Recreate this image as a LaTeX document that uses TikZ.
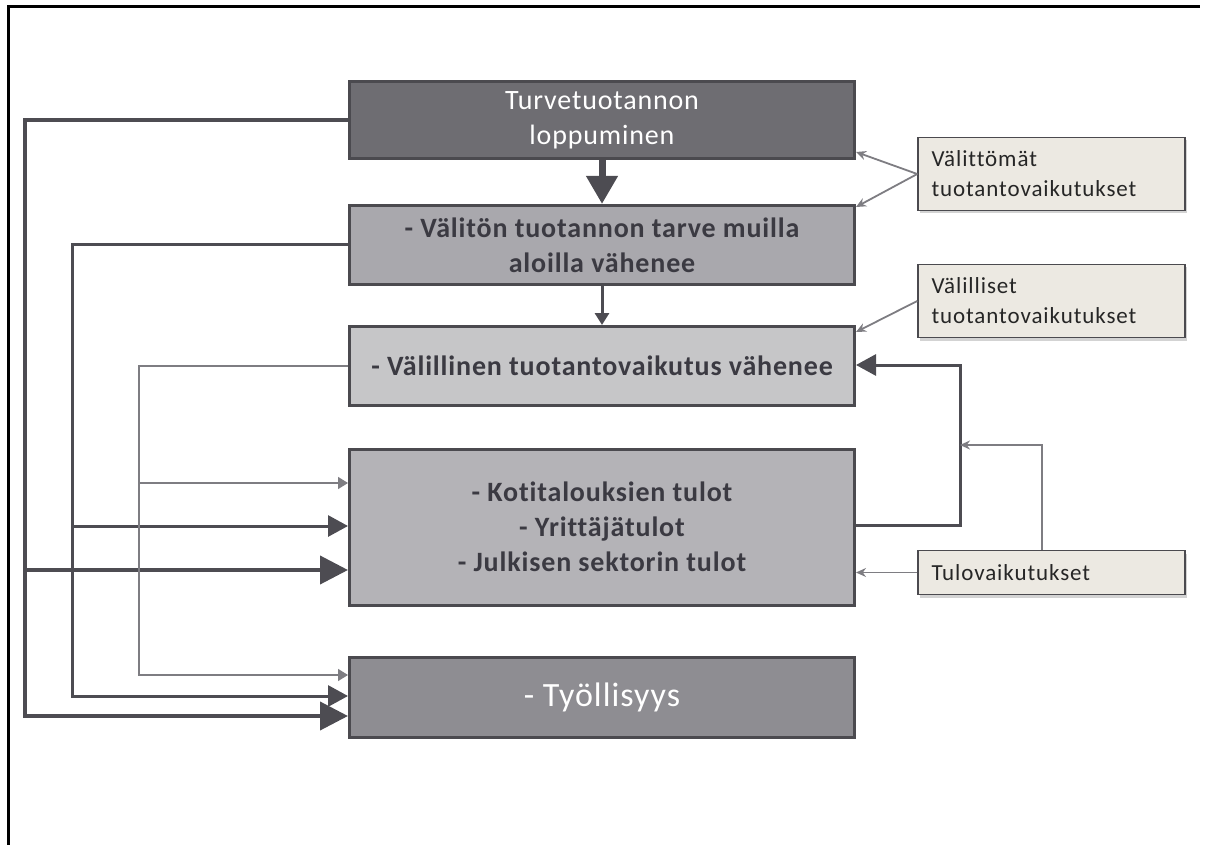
\documentclass[tikz,border=0pt]{standalone}
\usepackage{fontspec}
\setmainfont{Carlito}[RawFeature={-liga;-calt}]
\newfontfamily\spaced[LetterSpace=3,RawFeature={-liga;-calt}]{Carlito}
\newfontfamily\labfont[LetterSpace=4,RawFeature={-liga;-calt}]{Carlito}
\usetikzlibrary{arrows.meta,shadows}
\definecolor{bdr}{HTML}{4B4A4F}
\definecolor{fillA}{HTML}{6E6D72}
\definecolor{fillB}{HTML}{A9A8AD}
\definecolor{fillC}{HTML}{C6C6C8}
\definecolor{fillD}{HTML}{B4B3B7}
\definecolor{fillE}{HTML}{8E8D92}
\definecolor{labfill}{HTML}{ECE9E2}
\definecolor{darktxt}{HTML}{3B3A42}
\definecolor{linedark}{HTML}{4D4C52}
\definecolor{linelight}{HTML}{7E7D82}
\begin{document}
\begin{tikzpicture}[x=1pt,y=-1pt,
  box/.style={draw=bdr, line width=3pt, minimum width=505pt, inner sep=0pt, align=center},
  boxbold/.style={box, text=darktxt, font=\spaced\fontsize{28}{35}\selectfont\bfseries},
  labbox/.style={draw=bdr, line width=1.5pt, fill=labfill, minimum width=267pt, inner sep=0pt,
     text width=240pt, align=left, font=\labfont\fontsize{23}{30}\selectfont, text=black!85,
     drop shadow={opacity=0.35, shadow xshift=2pt, shadow yshift=-3pt}},
  outer/.style={draw=linedark, line width=4pt},
  middle/.style={draw=linedark, line width=3pt},
  inner/.style={draw=linelight, line width=1.5pt},
  bigtip/.style={-{Triangle[width=28pt,length=28pt]}},
  midtip/.style={-{Triangle[width=21pt,length=20pt]}},
  smalltip/.style={-{Triangle[width=12pt,length=10pt]}},
  labline/.style={draw=linelight, line width=1.8pt, -{Stealth[width=9pt,length=10pt]}},
]
\useasboundingbox (0,0) rectangle (1208,845);
\draw[line width=3pt] (8,845) -- (8,7) -- (1200,7);

% main boxes
\node[box, fill=fillA, minimum height=77pt, text=white, font=\spaced\fontsize{28}{35}\selectfont] (box1) at (602,120) {Turvetuotannon\\loppuminen};
\node[boxbold, fill=fillB, minimum height=79pt] (box2) at (602,245) {- Välitön tuotannon tarve muilla\\aloilla vähenee};
\node[boxbold, fill=fillC, minimum height=79pt] (box3) at (602,366) {- Välillinen tuotantovaikutus vähenee};
\node[boxbold, fill=fillD, minimum height=156pt] (box4) at (602,527) {- Kotitalouksien tulot\\- Yrittäjätulot\\- Julkisen sektorin tulot};
\node[box, fill=fillE, minimum height=80pt, text=white, font=\spaced\fontsize{34}{40}\selectfont] (box5) at (602,697) {- Työllisyys};

% label boxes
\node[labbox, minimum height=73pt] (lab1) at (1051.5,174) {Välittömät\\tuotantovaikutukset};
\node[labbox, minimum height=73pt] (lab2) at (1051.5,301) {Välilliset\\tuotantovaikutukset};
\node[labbox, minimum height=44pt] (lab3) at (1051.5,572.5) {Tulovaikutukset};

% vertical chain
\draw[draw=linedark, line width=7pt, -{Triangle[width=30pt,length=28pt]}] (box1.south) -- (box2.north);
\draw[middle, -{Triangle[width=14pt,length=12pt]}] (box2.south) -- (box3.north);

% left outer (from box1)
\draw[outer, bigtip] (box1.west) -- (25,120) -- (25,716) -- (box5.west |- 0,716);
\draw[outer, bigtip] (25,570) -- (box4.west |- 0,570);
% left middle (from box2)
\draw[middle, midtip] (box2.west) -- (72,245) -- (72,696) -- (box5.west |- 0,696);
\draw[middle, midtip] (72,526) -- (box4.west |- 0,526);
% left inner (from box3)
\draw[inner, smalltip] (box3.west) -- (139,366) -- (139,675) -- (box5.west |- 0,675);
\draw[inner, smalltip] (139,483) -- (box4.west |- 0,483);

% feedback box4 -> box3
\draw[middle, midtip] (box4.east |- 0,525) -- (960,525) -- (960,365) -- (box3.east |- 0,365);
\coordinate (fb) at (960,445);
\draw[labline] (lab3.north -| 1042,0) -- (1042,445) -- (fb);

% label arrows
\draw[labline] (lab1.west) -- (box1.east |- 0,152);
\draw[labline] (lab1.west) -- (box2.east |- 0,207);
\draw[labline] (lab2.west) -- (box3.east |- 0,332);
\draw[labline] (lab3.west) -- (box4.east |- 0,572.5);
\end{tikzpicture}
\end{document}
